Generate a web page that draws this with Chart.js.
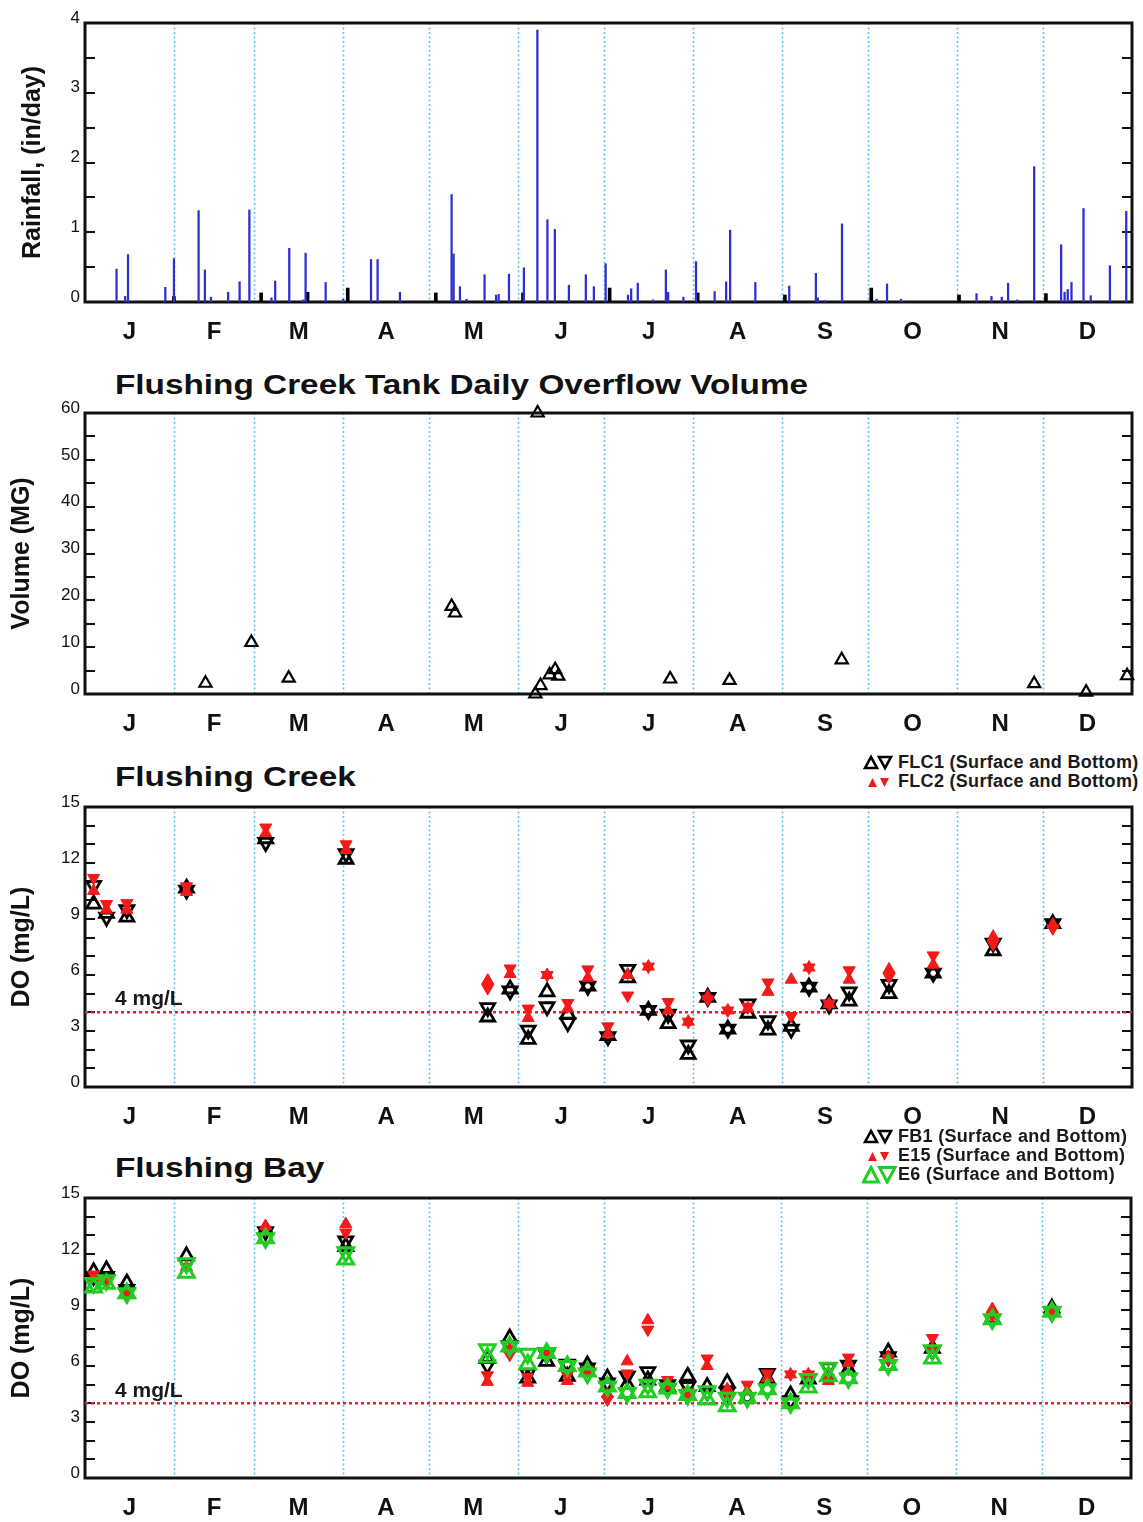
<!DOCTYPE html>
<html lang="en">
<head>
<meta charset="UTF-8">
<title>Flushing Creek and Flushing Bay</title>
<script src="https://cdn.jsdelivr.net/npm/chart.js@4"></script>
<style>
  * { margin: 0; padding: 0; box-sizing: border-box; }
  body { width: 1143px; height: 1522px; background: #fff; font-family: 'Liberation Sans', Arial, sans-serif; color: #111; position: relative; overflow: hidden; }
  canvas { position: absolute; left: 0; }
  .title { position: absolute; left: 115px; font-size: 28px; font-weight: 700; line-height: 32px; white-space: nowrap; transform: scaleX(1.19); transform-origin: left center; }
  .ref { position: absolute; left: 115px; font-size: 21px; font-weight: 700; line-height: 24px; color: #1a1a1a; }
  .legend { position: absolute; left: 862px; font-size: 18px; font-weight: 700; line-height: 19px; letter-spacing: 0.3px; white-space: nowrap; color: #1a1a1a; }
  .legend div { display: flex; align-items: center; height: 19px; }
  .legend svg { width: 36px; height: 19px; flex: none; }
</style>
</head>
<body>

<canvas id="rainChart" width="1143" height="345" style="top:0"></canvas>
<div class="title" style="top:369px">Flushing Creek Tank Daily Overflow Volume</div>
<canvas id="overflowChart" width="1143" height="395" style="top:345px"></canvas>
<div class="title" style="top:761px">Flushing Creek</div>
<div class="legend" style="top:753px">
  <div><svg viewBox="0 0 36 19"><polygon points="3,15 9,4 15,15" fill="none" stroke="#000" stroke-width="2.6"/><polygon points="17,4 29,4 23,15" fill="none" stroke="#000" stroke-width="2.6"/></svg>FLC1 (Surface and Bottom)</div>
  <div><svg viewBox="0 0 36 19"><polygon points="6,15 10.5,6 15,15" fill="#f01818"/><polygon points="18,6 27,6 22.5,15" fill="#f01818"/></svg>FLC2 (Surface and Bottom)</div>
</div>
<canvas id="creekChart" width="1143" height="390" style="top:740px"></canvas>
<div class="ref" style="top:986px">4 mg/L</div>
<div class="title" style="top:1152px">Flushing Bay</div>
<div class="legend" style="top:1127px">
  <div><svg viewBox="0 0 36 19"><polygon points="3,15 9,4 15,15" fill="none" stroke="#000" stroke-width="2.6"/><polygon points="17,4 29,4 23,15" fill="none" stroke="#000" stroke-width="2.6"/></svg>FB1 (Surface and Bottom)</div>
  <div><svg viewBox="0 0 36 19"><polygon points="6,15 10.5,6 15,15" fill="#f01818"/><polygon points="18,6 27,6 22.5,15" fill="#f01818"/></svg>E15 (Surface and Bottom)</div>
  <div><svg viewBox="0 0 36 19"><polygon points="1.5,17 9,2.5 16.5,17" fill="none" stroke="#22cc22" stroke-width="3"/><polygon points="17.5,2.5 33,2.5 25.2,17" fill="none" stroke="#22cc22" stroke-width="3"/></svg>E6 (Surface and Bottom)</div>
</div>
<canvas id="bayChart" width="1143" height="392" style="top:1130px"></canvas>
<div class="ref" style="top:1378px">4 mg/L</div>

<script>
// Day-of-year axis
const monthStarts = [0, 31, 59, 90, 120, 151, 181, 212, 243, 273, 304, 334];
const monthMids = [15.5, 45, 74.5, 105, 135.5, 166, 196.5, 227.5, 258, 288.5, 319, 349.5];
const monthLetters = ['J', 'F', 'M', 'A', 'M', 'J', 'J', 'A', 'S', 'O', 'N', 'D'];

// Daily rainfall (in/day)
const rainDays = [11, 14, 15, 28, 31, 39.6, 41.8, 43.9, 49.9, 53.9, 57.3, 65, 66.3, 71.2, 76, 76.9, 83.9, 90,
  99.7, 102, 109.8, 127.8, 128.5, 130.7, 133, 139.3, 143.3, 144.2, 147.8, 153, 157.7, 161.2, 163.8, 168.7,
  174.6, 177.4, 181.5, 189.3, 190.4, 192.7, 198, 202.5, 203.3, 208.6, 213, 219.5, 223.5, 224.9, 233.7,
  245.5, 254.8, 255.5, 258, 263.9, 276, 279.6, 284.5, 310.8, 316, 319.6, 321.8, 325, 330.9, 340.3, 341.5,
  342.6, 343.9, 348.1, 350.6, 357.3, 363];
const rainInches = [0.47, 0.08, 0.68, 0.21, 0.62, 1.31, 0.46, 0.07, 0.14, 0.29, 1.32, 0.06, 0.30, 0.77, 0.03, 0.70, 0.28, 0.04,
  0.61, 0.61, 0.14, 1.54, 0.69, 0.22, 0.04, 0.39, 0.10, 0.11, 0.40, 0.49, 3.90, 1.18, 1.04, 0.24,
  0.39, 0.22, 0.55, 0.10, 0.19, 0.27, 0.03, 0.46, 0.14, 0.07, 0.58, 0.15, 0.29, 1.03, 0.28,
  0.23, 0.41, 0.06, 0.02, 1.12, 0.04, 0.26, 0.04, 0.12, 0.08, 0.07, 0.27, 0.03, 1.94, 0.82, 0.14,
  0.18, 0.28, 1.34, 0.09, 0.52, 1.30];
// Short dark marks near the start of months
const markDays = [31, 61.4, 77.6, 91.6, 122.3, 152.7, 182.9, 213.6, 244, 274.1, 304.7, 335];
const markInches = [0.08, 0.13, 0.14, 0.20, 0.13, 0.13, 0.20, 0.13, 0.10, 0.20, 0.10, 0.12];

// Tank daily overflow volume (MG)
const overflowDays = [42, 58, 71, 127.8, 129, 157.8, 157, 158.8, 162, 163.9, 165, 204, 224.7, 263.8, 330.9, 349, 363.3];
const overflowMG = [2.3, 11.0, 3.4, 18.7, 17.3, 60, 0, 1.8, 4.1, 5.2, 3.8, 3.2, 2.9, 7.3, 2.2, 0.4, 3.9];

// Dissolved oxygen survey dates (day of year)
const sampleDays = [3, 7.5, 14.6, 35.4, 63, 91, 140.4, 148.2, 154.5, 161.1, 168.3, 175.3, 182.3, 189.2, 196.4,
  203.3, 210.3, 217.1, 224.1, 231.1, 238.1, 246.2, 252.4, 259.4, 266.4, 280.3, 295.7, 316.6, 337.4];

// Flushing Creek DO (mg/L)
const flc1Surface = [9.8, 9.3, 9.1, 10.65, 13.3, 12.2, 3.75, 5.25, 2.55, 5.1, 3.9, 5.4, 2.75, 5.85, 4.1, 3.4, 1.75, 4.8, 3.1, 3.95, 3.05, 3.25, 5.35, 4.45, 4.6, 5.0, 6.1, 7.3, 8.75];
const flc1Bottom = [10.8, 9.1, 9.5, 10.55, 13.1, 12.5, 4.25, 5.15, 3.05, 4.3, 3.45, 5.4, 2.7, 6.3, 4.1, 3.9, 2.25, 4.8, 3.1, 4.45, 3.55, 3.1, 5.35, 4.4, 5.1, 5.5, 6.1, 7.7, 8.75];
const flc2Surface = [10.5, 9.5, 9.5, 10.45, 13.6, 12.7, 5.7, 6.05, 3.7, 6.0, 4.2, 5.85, 2.85, 6.0, 6.45, 4.1, 3.5, 4.85, 4.1, 4.2, 5.1, 5.75, 6.4, 4.45, 5.75, 6.3, 6.55, 8.05, 8.7];
const flc2Bottom = [11.2, 9.8, 9.85, 10.75, 13.9, 13.0, 5.3, 6.35, 4.2, 6.0, 4.5, 6.3, 3.25, 4.9, 6.45, 4.55, 3.5, 4.7, 4.1, 4.3, 5.6, 3.8, 6.4, 4.45, 6.25, 5.9, 7.05, 7.65, 8.5];

// Flushing Bay DO (mg/L)
const fb1Surface = [11.05, 11.15, 10.45, 11.9, 13.3, 12.4, 6.4, 7.5, 5.35, 6.25, 5.45, 6.05, 5.35, 5.0, 5.25, 4.9, 5.45, 4.9, 5.1, 4.3, 5.3, 4.45, 5.3, 5.45, 5.8, 6.75, 6.95, 8.55, 9.1];
const fb1Bottom = [10.8, 10.8, 10.1, 11.5, 13.2, 12.7, 6.05, 7.1, 5.6, 6.6, 6.1, 5.9, 5.1, 5.45, 5.7, 5.0, 4.9, 4.6, 4.6, 4.3, 5.6, 4.15, 5.3, 5.9, 6.05, 6.5, 6.8, 8.5, 8.85];
const e15Surface = [10.7, 10.6, 9.8, 11.3, 13.5, 13.6, 5.15, 6.9, 5.1, 6.6, 5.2, 5.8, 4.5, 6.25, 8.45, 4.9, 4.4, 6.0, 4.75, 4.65, 5.35, 5.55, 5.55, 5.2, 6.15, 6.5, 6.95, 9.05, 8.9];
const e15Bottom = [10.9, 10.6, 9.7, 11.3, 13.3, 13.15, 5.5, 6.6, 5.4, 6.6, 5.5, 5.8, 4.2, 5.6, 7.95, 5.25, 4.6, 6.4, 4.5, 5.0, 5.6, 5.55, 5.55, 5.35, 6.45, 6.4, 7.5, 8.7, 8.9];
const e6Surface = [10.2, 10.4, 9.9, 11.0, 12.85, 11.7, 6.45, 7.05, 6.1, 6.7, 6.0, 5.7, 4.9, 4.55, 4.6, 4.8, 4.45, 4.2, 3.85, 4.3, 4.75, 4.0, 4.85, 5.45, 5.35, 6.05, 6.4, 8.5, 8.9];
const e6Bottom = [10.45, 10.6, 9.9, 11.5, 12.85, 12.1, 6.9, 7.05, 6.65, 6.7, 6.0, 5.6, 4.9, 4.55, 5.0, 4.8, 4.45, 4.65, 4.3, 4.3, 4.75, 4.0, 5.3, 5.9, 5.35, 6.05, 6.85, 8.5, 8.9];

const DO_STANDARD = 4;

Chart.defaults.font.family = "'Liberation Sans', Arial, sans-serif";
Chart.defaults.color = '#111';

const pts = (xs, ys) => xs.map((x, i) => ({ x, y: ys[i] }));

// Month separators, inward ticks on both sides and the box around the plot
const panelFrame = {
  id: 'panelFrame',
  beforeDatasetsDraw(chart) {
    const { ctx, chartArea: a, scales: { x, y } } = chart;
    ctx.save();
    ctx.strokeStyle = '#5cc6ee';
    ctx.lineWidth = 1.6;
    ctx.setLineDash([2, 2.5]);
    monthStarts.slice(1).forEach(d => {
      const px = Math.round(x.getPixelForValue(d)) + 0.5;
      ctx.beginPath();
      ctx.moveTo(px, a.top);
      ctx.lineTo(px, a.bottom);
      ctx.stroke();
    });
    ctx.setLineDash([]);
    ctx.strokeStyle = '#111';
    ctx.lineWidth = 2;
    y.ticks.forEach(t => {
      const py = Math.round(y.getPixelForValue(t.value));
      ctx.beginPath();
      ctx.moveTo(a.left, py);
      ctx.lineTo(a.left + 10, py);
      ctx.moveTo(a.right, py);
      ctx.lineTo(a.right - 10, py);
      ctx.stroke();
    });
    ctx.lineWidth = 3;
    ctx.strokeRect(a.left, a.top, a.right - a.left, a.bottom - a.top);
    ctx.restore();
  }
};

function xAxis(height, pad) {
  return {
    type: 'linear', min: 0, max: 365, offset: false,
    grid: { display: false, drawTicks: false },
    border: { display: false },
    afterBuildTicks: s => { s.ticks = monthMids.map(v => ({ value: v })); },
    afterFit: s => { s.height = height; },
    ticks: {
      autoSkip: false, maxRotation: 0, padding: pad,
      font: { size: 24, weight: 'bold' }, color: '#111',
      callback: (v, i) => monthLetters[i]
    }
  };
}

function yAxis(max, step, major, title, titlePad) {
  return {
    min: 0, max,
    grid: { display: false, drawTicks: false },
    border: { display: false },
    afterFit: s => { s.width = 85; },
    ticks: {
      stepSize: step, autoSkip: false, padding: 5, labelOffset: -5,
      font: { size: 17 }, color: '#111',
      callback: v => (Math.abs(v / major - Math.round(v / major)) < 1e-6 ? v : '')
    },
    title: {
      display: true, text: title, color: '#111',
      font: { size: 25, weight: 'bold' },
      padding: { top: titlePad, bottom: 0 }
    }
  };
}

function baseOptions(top, xHeight, xPad, yOpts) {
  return {
    responsive: false, animation: false, devicePixelRatio: 1, events: [],
    layout: { padding: { top, right: 11, left: 0, bottom: 0 } },
    plugins: { legend: { display: false }, tooltip: { enabled: false } },
    scales: { x: xAxis(xHeight, xPad), y: yOpts }
  };
}

function standardLine() {
  return {
    type: 'line', data: [{ x: 0, y: DO_STANDARD }, { x: 365, y: DO_STANDARD }],
    borderColor: '#f21a1a', borderWidth: 2.5, borderDash: [3, 3],
    pointRadius: 0, order: 10
  };
}

function openTri(xs, ys, color, radius, width, down, order) {
  return {
    data: pts(xs, ys), pointStyle: 'triangle', rotation: down ? 180 : 0,
    pointRadius: radius, borderWidth: width, borderColor: color,
    backgroundColor: 'rgba(0,0,0,0)', clip: false, order
  };
}

function solidTri(xs, ys, color, radius, down, order) {
  return {
    data: pts(xs, ys), pointStyle: 'triangle', rotation: down ? 180 : 0,
    pointRadius: radius, borderWidth: 1, borderColor: color,
    backgroundColor: color, clip: false, order
  };
}

new Chart(document.getElementById('rainChart'), {
  type: 'bar',
  data: {
    datasets: [
      { data: pts(rainDays, rainInches), backgroundColor: '#2e2ed2', barThickness: 1.6, grouped: false },
      { data: pts(markDays, markInches), backgroundColor: '#000', barThickness: 3, grouped: false }
    ]
  },
  options: baseOptions(23, 43, 16, yAxis(4, 0.5, 1, 'Rainfall, (in/day)', 18)),
  plugins: [panelFrame]
});

new Chart(document.getElementById('overflowChart'), {
  type: 'scatter',
  data: { datasets: [openTri(overflowDays, overflowMG, '#000', 7, 2.2, false, 1)] },
  options: baseOptions(68, 46, 16, yAxis(60, 5, 10, 'Volume (MG)', 7)),
  plugins: [panelFrame]
});

new Chart(document.getElementById('creekChart'), {
  type: 'scatter',
  data: {
    datasets: [
      solidTri(sampleDays, flc2Surface, '#f21a1a', 7, false, 1),
      solidTri(sampleDays, flc2Bottom, '#f21a1a', 7, true, 1),
      openTri(sampleDays, flc1Surface, '#000', 8, 2.8, false, 2),
      openTri(sampleDays, flc1Bottom, '#000', 8, 2.8, true, 2),
      standardLine()
    ]
  },
  options: baseOptions(67, 43, 16, yAxis(15, 1, 3, 'DO (mg/L)', 7)),
  plugins: [panelFrame]
});

new Chart(document.getElementById('bayChart'), {
  type: 'scatter',
  data: {
    datasets: [
      openTri(sampleDays, e6Surface, '#22cc22', 9, 3, false, 1),
      openTri(sampleDays, e6Bottom, '#22cc22', 9, 3, true, 1),
      solidTri(sampleDays, e15Surface, '#f21a1a', 7, false, 2),
      solidTri(sampleDays, e15Bottom, '#f21a1a', 7, true, 2),
      openTri(sampleDays, fb1Surface, '#000', 8, 2.8, false, 3),
      openTri(sampleDays, fb1Bottom, '#000', 8, 2.8, true, 3),
      standardLine()
    ]
  },
  options: baseOptions(68, 44, 16, yAxis(15, 1, 3, 'DO (mg/L)', 7)),
  plugins: [panelFrame]
});
</script>
</body>
</html>
